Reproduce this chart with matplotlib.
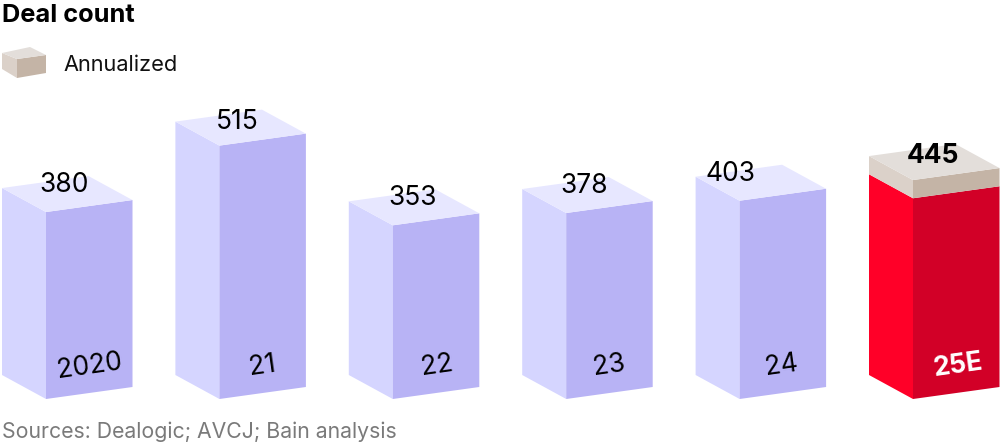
import matplotlib
matplotlib.use("Agg")
import matplotlib.pyplot as plt
from matplotlib.patches import Polygon

plt.rcParams['font.family'] = ['Inter', 'DejaVu Sans']

categories = ["2020", "21", "22", "23", "24", "25E"]
totals = [380, 515, 353, 378, 403, 445]
solid_values = [380, 515, 353, 378, 403, 408]
title = "Deal count"
legend_label = "Annualized"
source = "Sources: Dealogic; AVCJ; Bain analysis"

W, H = 1000, 444
PX_PER_UNIT = 0.492
BASE_PX = 399
STEP = 173.4
MID0 = 46

LEFT_W, RIGHT_W = 44, 86.5
LEFT_RISE, RIGHT_RISE = 24, 12

PURPLE = ("#D5D5FF", "#B8B3F5", "#E7E7FF")
RED = ("#FF0028", "#D20027", None)
BEIGE = ("#DBD1C9", "#C4B4A6", "#E3DEDA")

fig = plt.figure(figsize=(W / 100, H / 100), dpi=100)
ax = fig.add_axes([0, 0, 1, 1])
ax.set_xlim(-MID0 / STEP, (W - MID0) / STEP)
ax.set_ylim(-(H - BASE_PX) / PX_PER_UNIT, BASE_PX / PX_PER_UNIT)
ax.axis("off")

dxl, dxr = LEFT_W / STEP, RIGHT_W / STEP
dyl, dyr = LEFT_RISE / PX_PER_UNIT, RIGHT_RISE / PX_PER_UNIT


def side_faces(i, low, high, cols):
    ax.add_patch(Polygon([(i - dxl, low + dyl), (i, low), (i, high), (i - dxl, high + dyl)],
                         fc=cols[0], ec="none"))
    ax.add_patch(Polygon([(i, low), (i + dxr, low + dyr), (i + dxr, high + dyr), (i, high)],
                         fc=cols[1], ec="none"))


def top_face(i, high, col):
    ax.add_patch(Polygon([(i - dxl, high + dyl), (i, high), (i + dxr, high + dyr),
                          (i + dxr - dxl, high + dyr + dyl)], fc=col, ec="none"))


for i, (tot, sol) in enumerate(zip(totals, solid_values)):
    if tot != sol:
        side_faces(i, 0, sol, RED)
        side_faces(i, sol, tot, BEIGE)
        top_face(i, tot, BEIGE[2])
    else:
        side_faces(i, 0, tot, PURPLE)
        top_face(i, tot, PURPLE[2])

value_dx = [18, 18, 20, 18, -9, 20]
value_dy = [27, 24, 27, 27, 27, 24.5]
for i, tot in enumerate(totals):
    bold = i == len(totals) - 1
    ax.annotate(str(tot), (i, tot), xytext=(value_dx[i] * 0.72, value_dy[i] * 0.72),
                textcoords="offset points", ha="center", va="center",
                fontsize=19, color="black", fontweight="bold" if bold else "normal")

cat_dx = [44, 43, 44, 43, 42, 45]
for i, c in enumerate(categories):
    bold = i == len(categories) - 1
    ax.annotate(c, (i, 0), xytext=(cat_dx[i] * 0.72, 33 * 0.72),
                textcoords="offset points", ha="center", va="center", rotation=8,
                rotation_mode="anchor", fontsize=19,
                color="white" if bold else "black", fontweight="bold" if bold else "normal")

fig.text(2 / W, 1 - 16 / H, title, fontsize=18.3, fontweight="bold", color="black", ha="left", va="center")
fig.text(63.5 / W, 1 - 65 / H, legend_label, fontsize=15.7, color="#111111", ha="left", va="center")
fig.text(2 / W, 1 - 432 / H, source, fontsize=15.3, color="#7A7A7A", ha="left", va="center")

# legend cube, placed in figure pixel fractions
def f(pts):
    return [(x / W, 1 - y / H) for x, y in pts]

fig.add_artist(Polygon(f([(2, 53), (17, 59), (17, 78), (2, 69)]), fc=BEIGE[0], ec="none", transform=fig.transFigure))
fig.add_artist(Polygon(f([(17, 59), (46, 55), (46, 73), (17, 78)]), fc=BEIGE[1], ec="none", transform=fig.transFigure))
fig.add_artist(Polygon(f([(2, 53), (30, 47), (46, 55), (17, 59)]), fc=BEIGE[2], ec="none", transform=fig.transFigure))

fig.savefig("out.png", dpi=100)
